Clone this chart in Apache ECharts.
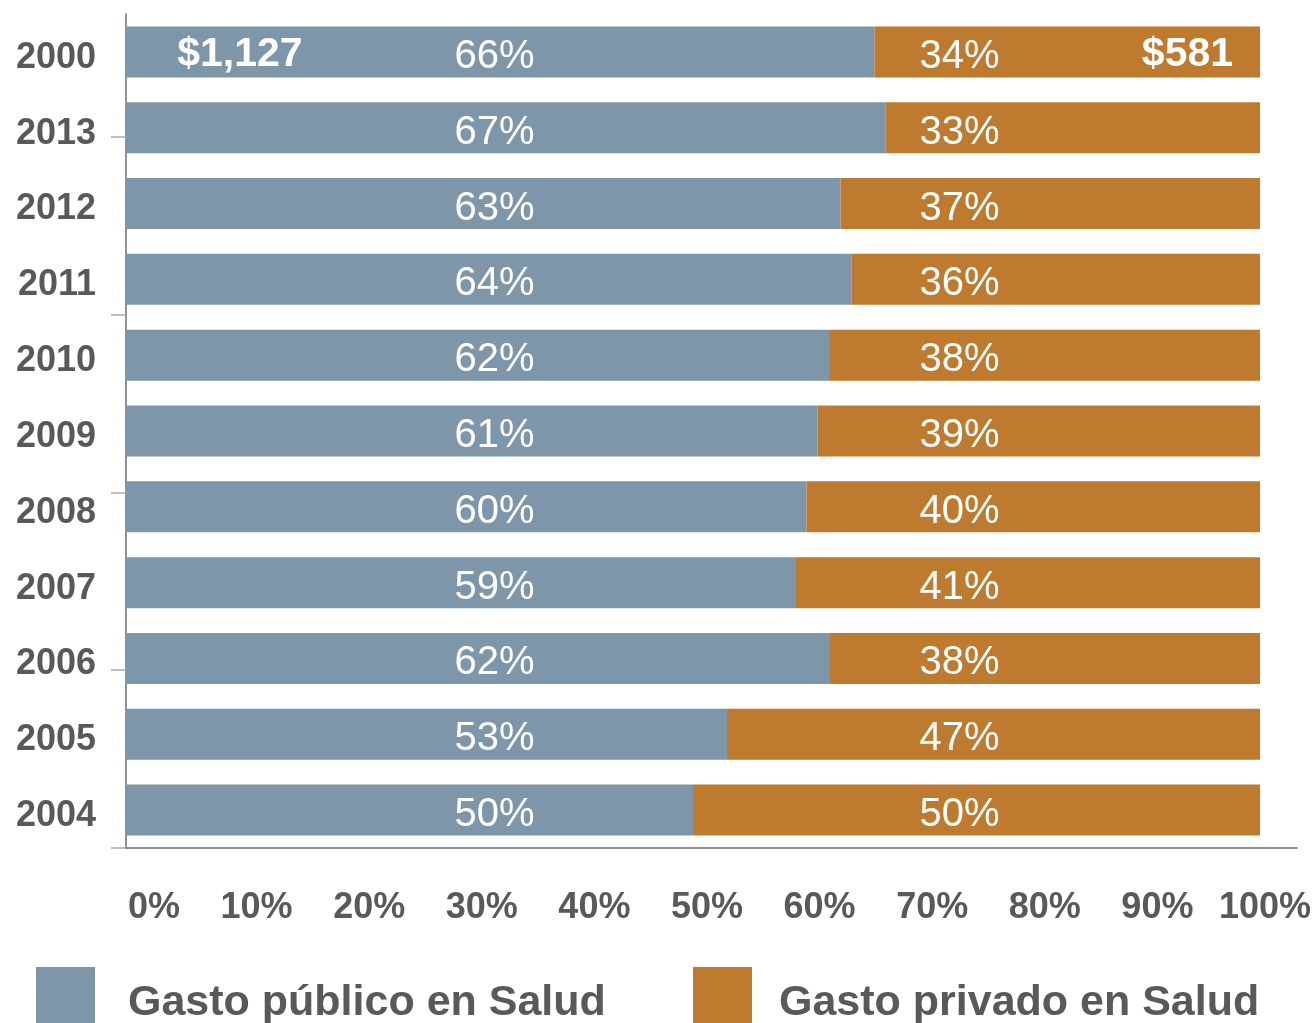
<!DOCTYPE html>
<html lang="es">
<head>
    <meta charset="UTF-8">
    <title>Gasto en Salud</title>
    <script src="https://cdn.jsdelivr.net/npm/echarts@6/dist/echarts.min.js"></script>
    <style>
        body { margin: 0; background: #fff; }
        #chart { width: 1315px; height: 1023px; }
    </style>
</head>
<body>
    <div id="chart"></div>
    <script>
        // datos
        var anos = ['2000', '2013', '2012', '2011', '2010', '2009', '2008', '2007', '2006', '2005', '2004'];
        var publico = [66, 67, 63, 64, 62, 61, 60, 59, 62, 53, 50];
        var privado = [34, 33, 37, 36, 38, 39, 40, 41, 38, 47, 50];
        var montos = ['$1,127', '$581'];

        var azul = '#7e96aa';
        var naranja = '#be7a2e';
        var gris = '#58595b';
        var fuente = 'Liberation Sans, Arial, sans-serif';

        // las etiquetas de % van en una columna fija
        var colPub = 32.5, colPriv = 73.5;

        var chart = echarts.init(document.getElementById('chart'));

        var etiqueta = {
            show: true,
            color: '#fff',
            fontSize: 40,
            fontFamily: fuente,
            align: 'center',
            verticalAlign: 'middle',
            offset: [0, 5],
            formatter: '{c}%'
        };

        var datosPub = publico.map(function(v) {
            return { value: v, label: { position: [(colPub / v * 100) + '%', '50%'] } };
        });
        var datosPriv = privado.map(function(v, i) {
            var ini = publico[i];
            return { value: v, label: { position: [((colPriv - ini) / v * 100) + '%', '50%'] } };
        });

        var textoLeyenda = { color: gris, fontSize: 43, fontWeight: 'bold', fontFamily: fuente };
        var txtEje = { color: gris, fontSize: 36, fontWeight: 'bold', fontFamily: fuente };

        var option = {
            animation: false,
            grid: [
                { left: 126, right: 18, top: 14, bottom: 175, outerBoundsMode: 'none' },
                { left: 126, right: 55, top: -41, bottom: 175, outerBoundsMode: 'none' },
                // solo para las etiquetas del eje x (algo desplazadas en el original)
                { left: 144, right: 45, top: 14, bottom: 175, outerBoundsMode: 'none' }
            ],
            legend: [
                {
                    left: 36, top: 967, padding: 0,
                    icon: 'rect',
                    itemWidth: 59, itemHeight: 60,
                    data: ['Gasto público en Salud'],
                    formatter: '{t|{name}}',
                    textStyle: { rich: { t: Object.assign({ padding: [12, 0, 0, 28] }, textoLeyenda) } }
                },
                {
                    left: 693, top: 967, padding: 0,
                    icon: 'rect',
                    itemWidth: 59, itemHeight: 60,
                    data: ['Gasto privado en Salud'],
                    formatter: '{t|{name}}',
                    textStyle: { rich: { t: Object.assign({ padding: [12, 0, 0, 22] }, textoLeyenda) } }
                }
            ],
            xAxis: [
                {
                    type: 'value',
                    gridIndex: 0,
                    min: 0,
                    max: 103.26,
                    axisLine: { show: true, lineStyle: { color: '#6d6e71', width: 1.5 } },
                    axisTick: { show: false },
                    splitLine: { show: false },
                    axisLabel: { show: false }
                },
                { type: 'value', gridIndex: 1, show: false },
                {
                    type: 'value',
                    gridIndex: 2,
                    min: 0,
                    max: 100,
                    interval: 10,
                    axisLine: { show: false },
                    axisTick: { show: false },
                    splitLine: { show: false },
                    axisLabel: {
                        margin: 42,
                        formatter: function(v) {
                            if (v === 0) return '{a|0%}';
                            if (v === 100) return '{b|100%}';
                            return '{n|' + v + '%}';
                        },
                        rich: {
                            n: txtEje,
                            a: Object.assign({ padding: [0, 0, 0, 20] }, txtEje),
                            b: Object.assign({ padding: [0, 10, 0, 0] }, txtEje)
                        }
                    }
                }
            ],
            yAxis: [
                {
                    type: 'category',
                    gridIndex: 0,
                    data: anos,
                    inverse: true,
                    axisLine: { show: true, lineStyle: { color: '#6d6e71', width: 1.5 } },
                    axisTick: { show: false },
                    axisLabel: {
                        margin: 30,
                        formatter: '{a|{value}}',
                        rich: { a: Object.assign({ padding: [12, 0, 0, 0] }, txtEje) }
                    }
                },
                {
                    // marcas sueltas del eje izquierdo
                    type: 'value',
                    gridIndex: 1,
                    min: 0,
                    max: 5,
                    interval: 1,
                    axisLine: { show: false },
                    axisLabel: { show: false },
                    splitLine: { show: false },
                    axisTick: { show: true, length: 15, lineStyle: { color: '#a7a9ac', width: 1.5 } }
                },
                { type: 'category', gridIndex: 2, show: false, data: anos }
            ],
            series: [
                {
                    name: 'Gasto público en Salud',
                    type: 'bar',
                    stack: 'total',
                    barWidth: 51,
                    itemStyle: { color: azul },
                    label: etiqueta,
                    data: datosPub
                },
                {
                    name: 'Gasto privado en Salud',
                    type: 'bar',
                    stack: 'total',
                    barWidth: 51,
                    itemStyle: { color: naranja },
                    label: etiqueta,
                    data: datosPriv
                },
                {
                    name: 'montos',
                    type: 'scatter',
                    symbolSize: 0,
                    itemStyle: { opacity: 1 },
                    label: {
                        show: true,
                        position: 'inside',
                        color: '#fff',
                        fontSize: 41,
                        fontWeight: 'bold',
                        fontFamily: fuente,
                        offset: [0, 3],
                        formatter: function(p) { return p.data[2]; }
                    },
                    data: [[10.05, '2000', montos[0]], [93.6, '2000', montos[1]]]
                }
            ]
        };

        chart.setOption(option);
    </script>
</body>
</html>
